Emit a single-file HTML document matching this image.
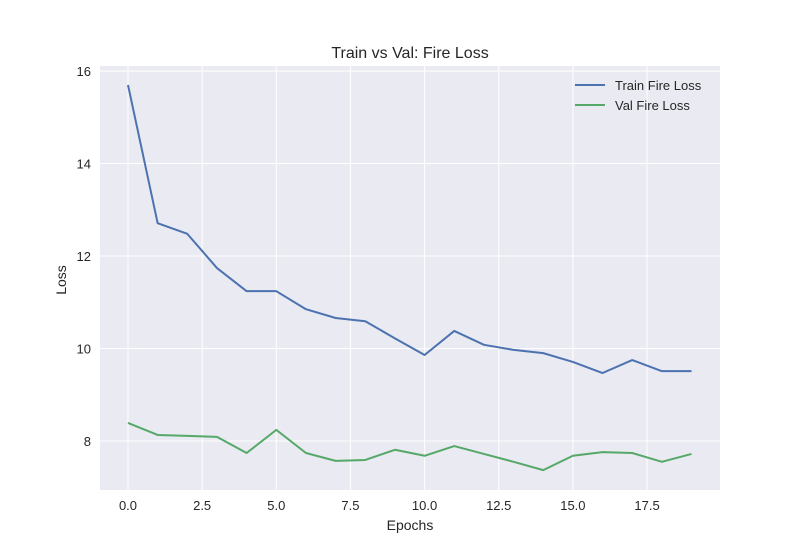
<!DOCTYPE html>
<html><head><meta charset="utf-8"><style>
body{margin:0;background:#fff;}
svg{font-family:"Liberation Sans",sans-serif;}
</style></head><body>
<svg id="c" width="800" height="550"></svg>
<script>
const epochs=[0,1,2,3,4,5,6,7,8,9,10,11,12,13,14,15,16,17,18,19];
const trainLoss=[15.70,12.71,12.48,11.74,11.24,11.24,10.85,10.66,10.59,10.22,9.86,10.38,10.08,9.97,9.90,9.71,9.47,9.75,9.51,9.51];
const valLoss=[8.39,8.13,8.11,8.09,7.74,8.24,7.74,7.57,7.59,7.81,7.68,7.89,7.72,7.55,7.37,7.68,7.76,7.74,7.55,7.72];
const xTicks=[0,2.5,5,7.5,10,12.5,15,17.5];
const xTickLabels=["0.0","2.5","5.0","7.5","10.0","12.5","15.0","17.5"];
const yTicks=[8,10,12,14,16];
const yTickLabels=["8","10","12","14","16"];
const L=100,R=720,T=66,B=490;
const xMin=-0.944,xMax=19.96,yMin=6.94,yMax=16.11;
const sx=v=>L+(v-xMin)/(xMax-xMin)*(R-L);
const sy=v=>B-(v-yMin)/(yMax-yMin)*(B-T);
const svg=document.getElementById('c');
const NS='http://www.w3.org/2000/svg';
function mk(tag,attrs,parent){const e=document.createElementNS(NS,tag);for(const k in attrs)e.setAttribute(k,attrs[k]);(parent||svg).appendChild(e);return e;}
const bg=mk('rect',{x:L,y:T,width:R-L,height:B-T,fill:'#eaeaf2'});


xTicks.forEach((t,i)=>{
 const g=mk('line',{x1:sx(t),x2:sx(t),y1:T,y2:B,stroke:'#fff','stroke-width':1});
 
 
 const tx=mk('text',{x:sx(t),y:B+20,'text-anchor':'middle','font-size':13,fill:'#262626'});
 tx.textContent=xTickLabels[i];
 
 
});
yTicks.forEach((t,i)=>{
 const g=mk('line',{x1:L,x2:R,y1:sy(t),y2:sy(t),stroke:'#fff','stroke-width':1});
 
 
 const tx=mk('text',{x:L-9,y:sy(t)+5,'text-anchor':'end','font-size':13,fill:'#262626'});
 tx.textContent=yTickLabels[i];
 
 
});
function line(data,color,name){
 const p=mk('polyline',{points:data.map((v,i)=>sx(epochs[i])+','+sy(v)).join(' '),fill:'none',stroke:color,'stroke-width':2,'stroke-linejoin':'round'});
 
 
}
line(trainLoss,'#4c72b0','train-fire-loss-line');
line(valLoss,'#55a868','val-fire-loss-line');
const title=mk('text',{x:410,y:58,'text-anchor':'middle','font-size':16,fill:'#262626'});
title.textContent='Train vs Val: Fire Loss';


const xl=mk('text',{x:410,y:530,'text-anchor':'middle','font-size':14,fill:'#262626'});
xl.textContent='Epochs';


const yl=mk('text',{x:66,y:280,'text-anchor':'middle','font-size':14,fill:'#262626',transform:'rotate(-90 66 280)'});
yl.textContent='Loss';


[['Train Fire Loss','#4c72b0',85],['Val Fire Loss','#55a868',105]].forEach(([n,c,y])=>{
 const g=mk('g',{});
 
 
 mk('line',{x1:575,x2:605,y1:y,y2:y,stroke:c,'stroke-width':2},g);
 const t=mk('text',{x:615,y:y+5,'font-size':13,fill:'#262626'},g);
 t.textContent=n;
});
</script>
</body></html>
